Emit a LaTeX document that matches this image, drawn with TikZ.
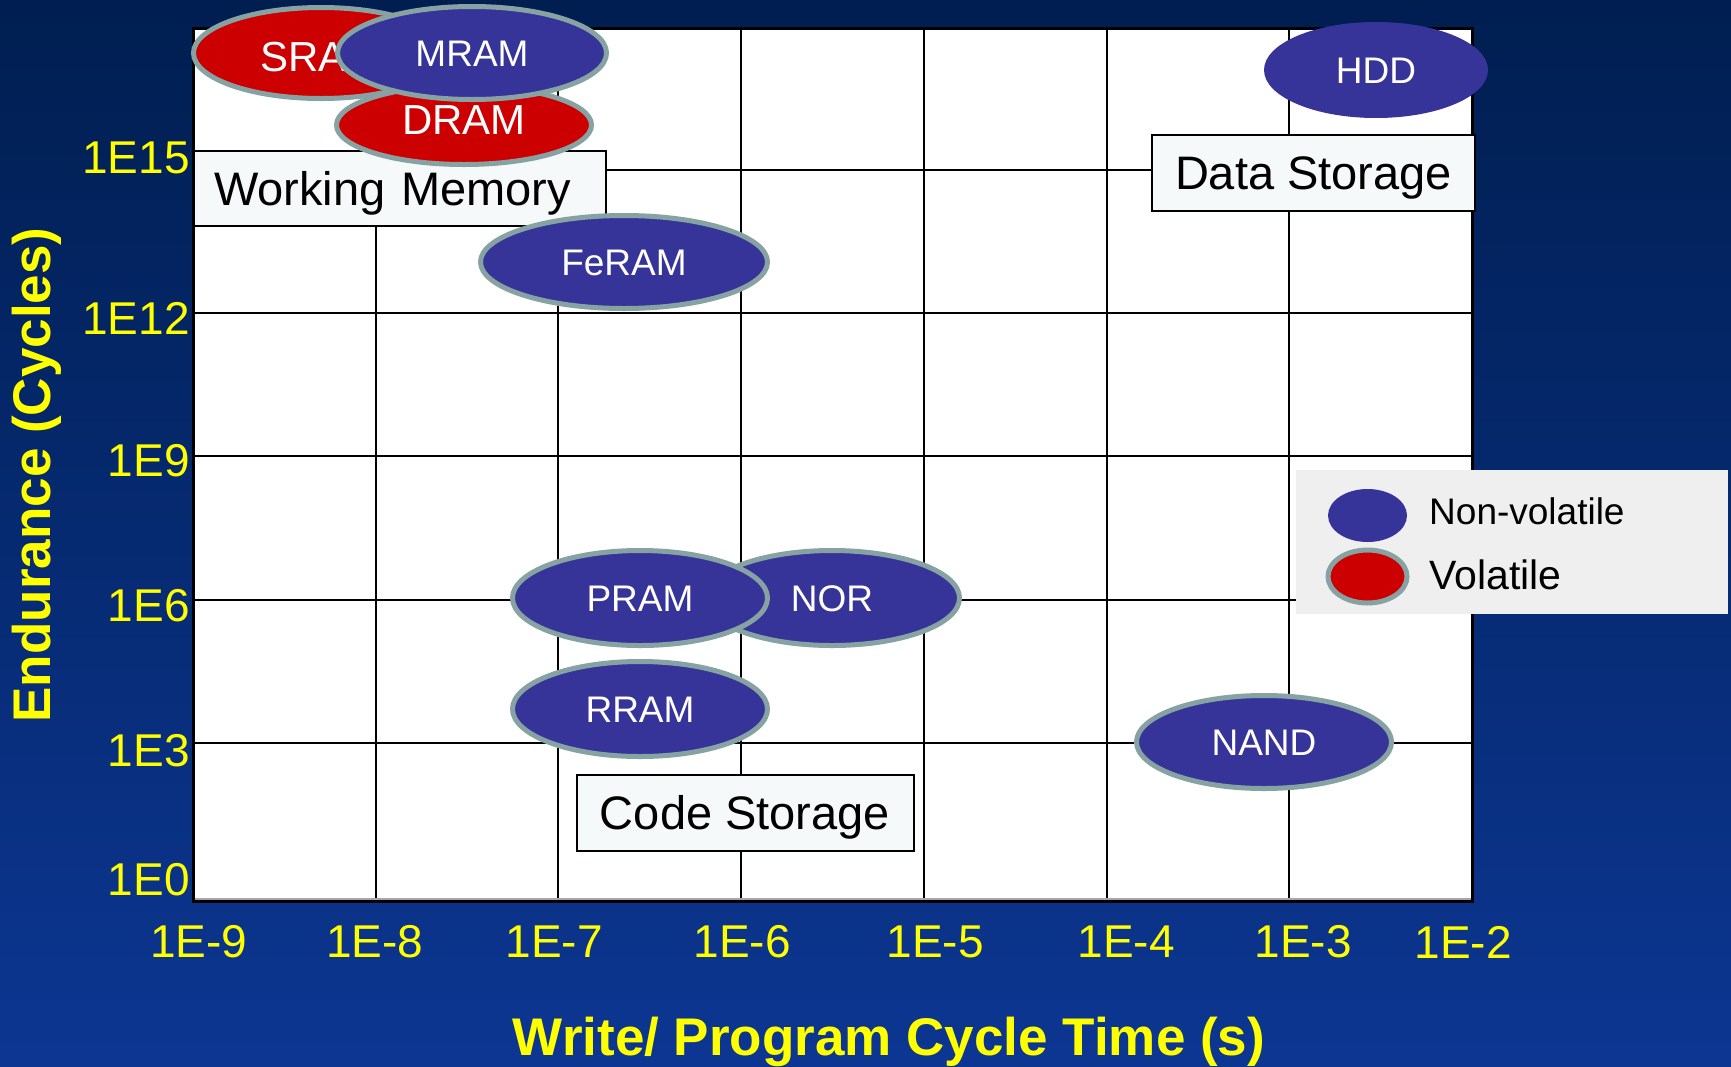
\documentclass[tikz,border=0pt]{standalone}
\usepackage{fontspec}
\setmainfont{Liberation Sans}
\usetikzlibrary{shapes.geometric}

\definecolor{bgtop}{RGB}{0,30,80}
\definecolor{bgbot}{RGB}{12,54,146}
\definecolor{nvblue}{RGB}{54,52,153}
\definecolor{volred}{RGB}{204,0,0}
\definecolor{rimgray}{RGB}{134,162,162}
\definecolor{boxfill}{RGB}{245,249,250}
\definecolor{keygray}{RGB}{239,239,239}
\definecolor{axisyellow}{RGB}{255,255,0}

\begin{document}
\begin{tikzpicture}[
		x=1pt, y=-1pt,
		nonvol/.style={ellipse, draw=rimgray, line width=5pt, fill=nvblue, text=white, inner sep=0pt,
			font=\fontsize{37}{44}\selectfont, text height=26.5pt, text depth=0pt,
			minimum width=255pt, minimum height=95pt},
		vol/.style={nonvol, fill=volred, font=\fontsize{42}{50}\selectfont, text height=30pt},
		region/.style={draw=black, line width=2pt, fill=boxfill, inner sep=0pt,
			font=\fontsize{47}{56}\selectfont, text height=33.7pt, text depth=0pt},
		tick/.style={text=axisyellow, inner sep=0pt, font=\fontsize{46}{55}\selectfont},
		axistitle/.style={text=axisyellow, inner sep=0pt, font=\bfseries\fontsize{53}{64}\selectfont},
		keytext/.style={anchor=west, inner sep=0pt, text depth=0pt},
		grid line/.style={line width=2pt}
	]
		\useasboundingbox (0,0) rectangle (1731,1066);
		\shade[top color=bgtop, bottom color=bgbot] (0,0) rectangle (1731,1066);

		\fill[white] (193,28) rectangle (1472,901);
		\foreach \i in {1,...,6}
			\draw[grid line] ({193+182.71*\i},28) -- ({193+182.71*\i},901);
		\foreach \y in {170,313,456,600,743}
			\draw[grid line] (193,\y) -- (1472,\y);
		\draw[gray!70, line width=1.5pt] (194,899) -- (1471,899);
		\draw[line width=3pt] (193,28) rectangle (1472,901);

		\foreach \lab/\y [count=\k] in {1E15/158,1E12/318,1E9/461,1E6/606,1E3/751,1E0/880}
			\node[tick, anchor=east] (ytick\k) at (190,\y) {\lab};
		\foreach \lab/\x [count=\k] in {1E-9/199,1E-8/375,1E-7/554,1E-6/742,1E-5/935,1E-4/1126,1E-3/1303,1E-2/1463}
			\node[tick] (xtick\k) at (\x,942) {\lab};

		\node[axistitle, anchor=base] (xtitle) at (889,1055) {Write/ Program Cycle Time (s)};
		\node[axistitle, rotate=90] (ytitle) at (37,475) {Endurance (Cycles)};

		\node[region, minimum width=412pt, minimum height=75pt, text width=372pt, align=left] (working) at (400,188.5) {Working Memory};
		\node[region, minimum width=323pt, minimum height=76pt] (data) at (1313.5,173) {Data Storage};
		\node[region, minimum width=337pt, minimum height=76pt] (code) at (745,813) {Code Storage};

		\node[vol, minimum height=91pt, text height=36pt] (sram) at (321,53) {SRAM};
		\node[vol, minimum height=79pt, text depth=12pt] (dram) at (464,125) {DRAM};
		\node[nonvol, minimum width=269pt, minimum height=93pt] (mram) at (472,53) {MRAM};
		\node[nonvol, minimum width=287pt, minimum height=93pt] (feram) at (624,262) {FeRAM};
		\node[nonvol, draw=none, minimum width=224pt, minimum height=96pt] (hdd) at (1376,70) {HDD};
		\node[nonvol] (nor) at (832,598) {NOR};
		\node[nonvol] (pram) at (640,598) {PRAM};
		\node[nonvol] (rram) at (640,709) {RRAM};
		\node[nonvol, minimum height=93pt] (nand) at (1264,742) {NAND};

		\node[fill=keygray, minimum width=432pt, minimum height=144pt, inner sep=0pt] (key) at (1512,542) {};
		\node[nonvol, draw=none, minimum width=79pt, minimum height=53pt] (keynv) at (1367.5,515.5) {};
		\node[vol, minimum width=79pt, minimum height=53pt] (keyv) at (1367.5,576.5) {};
		\node[keytext, font=\fontsize{37}{44}\selectfont, text height=26.5pt] (keynvlabel) at (1429,511) {Non-volatile};
		\node[keytext, font=\fontsize{41}{49}\selectfont, text height=29.4pt] (keyvlabel) at (1429,575) {Volatile};
	\end{tikzpicture}
\end{document}
